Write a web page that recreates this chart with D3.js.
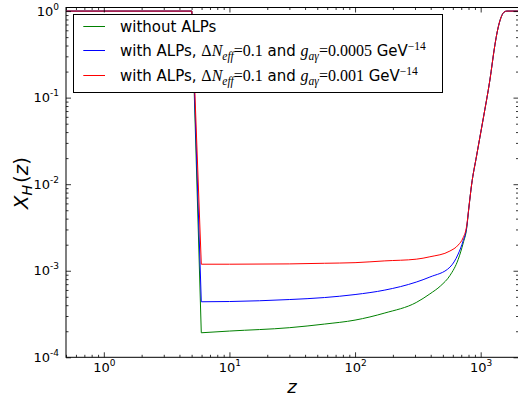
<!DOCTYPE html>
<html>
<head>
<meta charset="utf-8">
<script src="https://cdn.jsdelivr.net/npm/d3@7"></script>
<style>
  body { margin: 0; background: #fff; }
  text { font-family: "DejaVu Sans", sans-serif; }
</style>
</head>
<body>
<div id="chart"></div>
<script>
// redshift samples and hydrogen ionisation fraction
const zTail = [808, 846, 927, 1047, 1184, 1298, 1359, 1422, 1475, 1531, 1618, 2000];
const xhTail = [5.6e-3, 9.79e-3, 0.0212, 0.0568, 0.160, 0.407, 0.590, 0.771, 0.892, 0.971, 1, 1];

const zGreen = [0.5, 5.02, 5.97, 10, 30.2, 57, 100, 172.6, 307, 394, 480, 569, 662, 726, 772];
const xhGreen = [1, 1, 1.92e-4, 2.01e-4, 2.2e-4, 2.42e-4, 2.69e-4, 3.25e-4, 4.3e-4, 5.4e-4, 6.7e-4, 8.8e-4, 1.35e-3, 2.09e-3, 3.03e-3];

const zBlue = [0.5, 5.02, 5.97, 10, 30.2, 57, 100, 172.6, 307, 394, 569, 662, 726, 772];
const xhBlue = [1, 1, 4.38e-4, 4.41e-4, 4.65e-4, 4.9e-4, 5.31e-4, 5.98e-4, 7.4e-4, 8.46e-4, 1.1e-3, 1.56e-3, 2.23e-3, 3.12e-3];

const zRed = [0.5, 5.02, 5.97, 10, 30.2, 57, 100, 172.6, 307, 394, 569, 662, 726, 772];
const xhRed = [1, 1, 1.19e-3, 1.19e-3, 1.2e-3, 1.22e-3, 1.24e-3, 1.3e-3, 1.36e-3, 1.45e-3, 1.69e-3, 1.98e-3, 2.42e-3, 3.24e-3];

const xMajorTicks = [1, 10, 100, 1000];
const xTickExp = ["0", "1", "2", "3"];
const yMajorTicks = [1e-4, 1e-3, 1e-2, 1e-1, 1];
const yTickExp = ["-4", "-3", "-2", "-1", "0"];

// legend text pieces: s = sans, m = math upright, mi = math italic, sub / sup
const labelGreen = [["without ALPs", "s"]];
const labelBlue = [["with ALPs, ", "s"], ["Δ", "m"], ["N", "mi"], ["eff", "sub"], ["=0.1", "m"], [" and ", "s"],
  ["g", "mi"], ["aγ", "sub"], ["=0.0005", "m"], [" GeV", "s"], ["−14", "sup"]];
const labelRed = [["with ALPs, ", "s"], ["Δ", "m"], ["N", "mi"], ["eff", "sub"], ["=0.1", "m"], [" and ", "s"],
  ["g", "mi"], ["aγ", "sub"], ["=0.001", "m"], [" GeV", "s"], ["−14", "sup"]];

const series = [
  { z: zGreen.concat(zTail), xh: xhGreen.concat(xhTail), color: "#008000", label: labelGreen },
  { z: zBlue.concat(zTail), xh: xhBlue.concat(xhTail), color: "#0000ff", label: labelBlue },
  { z: zRed.concat(zTail), xh: xhRed.concat(xhTail), color: "#ff0000", label: labelRed }
];

const W = 518, H = 396;
const plot = { left: 66, right: 518.5, top: 7.5, bottom: 357.3 };

const svg = d3.select("#chart").append("svg")
  .attr("width", W)
  .attr("height", H);

const x = d3.scaleLog().domain([0.5, 2000]).range([plot.left, plot.right]);
const y = d3.scaleLog().domain([1e-4, 1.1]).range([plot.bottom, plot.top]);

// minor ticks 2..9 per decade inside the domain
function minors(scale) {
  const [lo, hi] = scale.domain();
  const out = [];
  for (let e = -5; e <= 4; e++) {
    for (let k = 2; k <= 9; k++) {
      const v = k * Math.pow(10, e);
      if (v >= lo && v <= hi * 1.0001) out.push(v);
    }
  }
  return out;
}

const serif = "'Liberation Serif', 'DejaVu Serif', serif";

svg.append("defs").append("clipPath").attr("id", "clip")
  .append("rect")
  .attr("x", plot.left).attr("y", plot.top)
  .attr("width", plot.right - plot.left).attr("height", plot.bottom - plot.top);

// plateau + drop is straight, the slow rise afterwards is smooth
const lineStraight = d3.line().x(d => x(d[0])).y(d => y(d[1]));
const lineSmooth = d3.line().x(d => x(d[0])).y(d => y(d[1])).curve(d3.curveMonotoneX);

const lines = svg.append("g").attr("clip-path", "url(#clip)");
series.forEach(s => {
  const pts = s.z.map((z, i) => [z, s.xh[i]]);
  lines.append("path")
    .attr("fill", "none")
    .attr("stroke", s.color)
    .attr("stroke-width", 1)
    .attr("d", lineStraight(pts.slice(0, 3)) + lineSmooth(pts.slice(2)).replace(/^M/, "L"));
});

// axes, ticks pointing inward on all four sides
function addAxis(axisFn, scale, translate, minorVals, majorVals) {
  svg.append("g")
    .attr("transform", translate)
    .call(axisFn(scale).tickValues(minorVals).tickSize(-2.5).tickFormat(""))
    .call(g => g.select(".domain").remove());
  return svg.append("g")
    .attr("transform", translate)
    .call(axisFn(scale).tickValues(majorVals).tickSize(-5).tickFormat(""))
    .call(g => g.select(".domain").remove());
}

const xb = addAxis(d3.axisBottom, x, `translate(0,${plot.bottom})`, minors(x), xMajorTicks);
addAxis(d3.axisTop, x, `translate(0,${plot.top})`, minors(x), xMajorTicks);
const yl = addAxis(d3.axisLeft, y, `translate(${plot.left},0)`, minors(y), yMajorTicks);
addAxis(d3.axisRight, y, `translate(${plot.right},0)`, minors(y), yMajorTicks);

svg.selectAll(".tick line").attr("stroke", "#000").attr("stroke-width", 0.8);

xb.selectAll(".tick text").each(function (d, i) {
  const t = d3.select(this)
    .attr("y", 14.7).attr("dy", null)
    .attr("font-size", 13).attr("fill", "#000")
    .attr("text-anchor", "middle");
  t.append("tspan").text("10");
  t.append("tspan").attr("dy", -6).attr("font-size", 9).text(xTickExp[i]);
});

yl.selectAll(".tick text").each(function (d, i) {
  const t = d3.select(this)
    .attr("x", -7).attr("dy", null).attr("y", 4.2)
    .attr("font-size", 13).attr("fill", "#000")
    .attr("text-anchor", "end");
  t.append("tspan").text("10");
  t.append("tspan").attr("dy", -6).attr("font-size", 9).text(yTickExp[i]);
});

// frame
svg.append("rect")
  .attr("x", plot.left).attr("y", plot.top)
  .attr("width", plot.right - plot.left).attr("height", plot.bottom - plot.top)
  .attr("fill", "none").attr("stroke", "#000").attr("stroke-width", 1);

// axis labels
const ylab = svg.append("text")
  .attr("transform", "translate(28,183) rotate(-90)")
  .attr("text-anchor", "middle")
  .attr("font-family", serif)
  .attr("font-size", 20);
ylab.append("tspan").attr("font-style", "italic").text("X");
ylab.append("tspan").attr("font-style", "italic").attr("font-size", 14).attr("dy", 4).text("H");
ylab.append("tspan").attr("dy", -4).attr("dx", 2).text("(");
ylab.append("tspan").attr("font-style", "italic").text("z");
ylab.append("tspan").text(")");

svg.append("text")
  .attr("x", 292).attr("y", 393)
  .attr("text-anchor", "middle")
  .attr("font-family", serif)
  .attr("font-style", "italic")
  .attr("font-size", 18)
  .text("z");

// legend
const legend = svg.append("g");
legend.append("rect")
  .attr("x", 73.5).attr("y", 14.5)
  .attr("width", 369).attr("height", 78)
  .attr("fill", "#fff").attr("stroke", "#000").attr("stroke-width", 1);

const rowY = [26.5, 50.5, 75.5];
series.forEach((s, i) => {
  legend.append("line")
    .attr("x1", 83.3).attr("x2", 105)
    .attr("y1", rowY[i]).attr("y2", rowY[i])
    .attr("stroke", s.color).attr("stroke-width", 1);
  const t = legend.append("text")
    .attr("x", 120).attr("y", rowY[i] + 5.2)
    .attr("font-size", 15).attr("fill", "#000");
  let shift = 0;
  s.label.forEach(([str, kind]) => {
    const sp = t.append("tspan").text(str);
    let target = 0;
    if (kind === "s") {
      sp.attr("font-family", "'DejaVu Sans', sans-serif").attr("font-size", 15);
    } else if (kind === "m") {
      sp.attr("font-family", serif).attr("font-size", 16);
    } else if (kind === "mi") {
      sp.attr("font-family", serif).attr("font-style", "italic").attr("font-size", 16);
    } else if (kind === "sub") {
      sp.attr("font-family", serif).attr("font-style", "italic").attr("font-size", 11.5);
      target = 4;
    } else if (kind === "sup") {
      sp.attr("font-family", serif).attr("font-size", 11.5);
      target = -6;
    }
    if (target !== shift) sp.attr("dy", target - shift);
    shift = target;
  });
});
</script>
</body>
</html>
